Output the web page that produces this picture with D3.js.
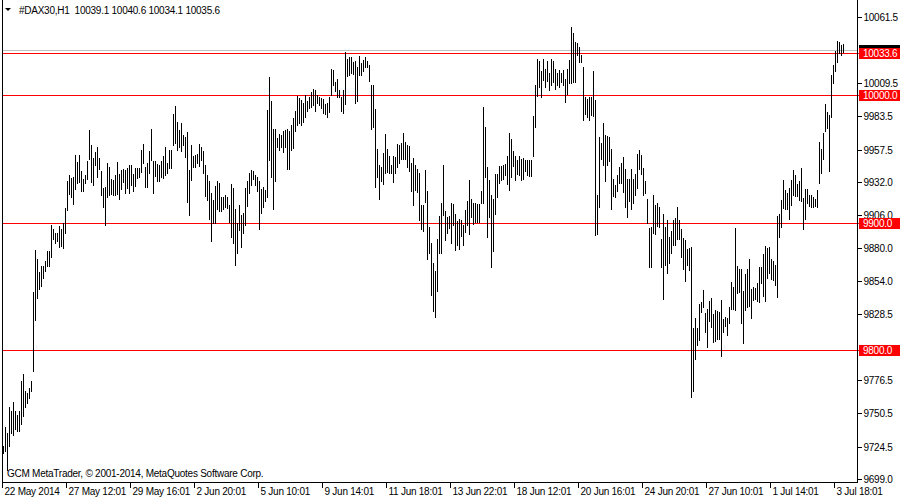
<!DOCTYPE html>
<html><head><meta charset="utf-8">
<script src="https://cdn.jsdelivr.net/npm/d3@7"></script>
<style>
body{margin:0;background:#fff}
svg{display:block}
text{font-family:"Liberation Sans",Arial,sans-serif;font-size:10px;letter-spacing:-0.25px;white-space:pre}
</style>
</head><body>
<svg id="c" width="900" height="500"></svg>
<script>
const title = "#DAX30,H1  10039.1 10040.6 10034.1 10035.6";
const copyright = "GCM MetaTrader, \u00a9 2001-2014, MetaQuotes Software Corp.";

const highs = [
9724.9,9739.8,9735.1,9755.5,9752.4,9759.4,9752.4,9749.2,9752.4,9775.9,
9781.4,9768.0,9766.5,9770.4,9775.9,9845.7,9878.7,9871.6,9861.4,9866.1,
9866.1,9870.1,9877.9,9877.9,9898.3,9895.2,9892.0,9892.0,9897.5,9895.2,
9899.9,9911.6,9932.8,9937.5,9935.2,9936.0,9953.2,9947.7,9953.2,9940.7,
9934.4,9937.5,9948.5,9972.8,9961.1,9950.9,9955.6,9959.5,9950.9,9940.7,
9927.3,9928.1,9946.9,9943.8,9934.4,9933.6,9937.5,9947.7,9938.3,9941.5,
9942.2,9941.5,9943.0,9945.4,9945.4,9938.3,9943.0,9943.0,9943.0,9957.2,
9961.8,9943.8,9946.9,9956.4,9973.6,9948.5,9948.5,9946.2,9945.4,9948.5,
9952.4,9959.5,9946.9,9957.2,9957.2,9985.4,9991.7,9979.1,9972.8,9978.3,
9968.9,9967.3,9971.3,9941.5,9961.1,9952.4,9953.2,9954.0,9961.8,9959.5,
9956.4,9945.4,9937.5,9932.8,9923.4,9917.9,9928.9,9932.8,9931.3,9920.3,
9920.3,9921.8,9920.3,9914.0,9930.5,9927.3,9910.9,9899.9,9914.0,9906.2,
9907.7,9927.3,9932.8,9939.1,9941.5,9940.7,9937.5,9936.0,9932.8,9926.5,
9928.1,9925.8,9988.5,10014.4,9995.6,9973.6,9973.6,9966.6,9969.7,9968.9,
9972.0,9972.8,9973.6,9972.0,9976.8,9982.3,9987.7,9999.5,9997.9,9996.4,
9994.0,10000.3,9995.6,9998.7,10002.6,10005.0,10004.2,10000.3,9998.7,9997.9,
9997.2,9993.2,9994.0,9998.7,10020.7,10019.9,10010.5,10012.8,10004.2,9998.7,
10004.2,10034.0,10028.5,10030.1,10030.1,10026.2,10027.0,10022.3,10030.9,10025.4,
10027.8,10030.1,10027.0,10023.8,10008.1,10008.1,9989.3,9957.9,9945.4,9943.8,
9954.8,9969.7,9957.9,9952.4,9945.4,9952.4,9951.7,9961.8,9961.1,9962.6,
9970.5,9963.4,9961.1,9960.3,9946.9,9950.9,9945.4,9942.3,9939.1,9914.0,
9914.0,9941.5,9925.0,9896.7,9884.2,9868.5,9862.2,9887.3,9905.3,9915.6,
9945.4,9909.3,9904.6,9905.3,9915.6,9914.8,9906.9,9901.4,9903.0,9902.2,
9898.3,9910.1,9917.1,9933.6,9918.7,9915.6,9915.6,9914.8,9914.8,9925.0,
9990.9,9975.2,9943.8,9933.6,9921.8,9918.7,9938.3,9938.3,9944.6,9944.6,
9945.4,9946.2,9952.4,9970.5,9965.8,9956.4,9952.4,9949.3,9952.4,9950.1,
9950.9,9949.3,9949.3,9949.3,9949.3,9983.8,10008.1,10028.5,10027.0,10019.1,
10028.5,10020.7,10027.0,10017.6,10028.5,10027.0,10020.7,10017.6,10019.9,10017.6,
10019.9,10012.8,10020.7,10027.8,10053.7,10049.0,10041.9,10041.1,10038.0,10031.7,
10022.3,9998.7,9997.2,9998.7,9998.7,10019.1,9996.4,9921.8,9967.3,9962.6,
9978.3,9968.9,9968.1,9967.3,9957.9,9934.4,9929.7,9937.5,9943.8,9946.9,
9951.7,9942.3,9934.4,9934.4,9942.3,9934.4,9938.3,9954.0,9957.2,9953.2,
9943.0,9932.8,9918.7,9895.9,9896.7,9921.8,9914.0,9915.6,9912.4,9887.3,
9906.9,9896.7,9902.2,9888.9,9893.6,9902.2,9903.8,9912.4,9902.2,9895.2,
9888.1,9886.5,9879.5,9880.3,9881.0,9817.5,9825.3,9817.5,9836.3,9837.9,
9847.3,9829.3,9832.4,9838.7,9841.0,9828.5,9831.6,9830.8,9830.0,9839.5,
9824.5,9826.1,9825.3,9834.0,9853.6,9849.7,9895.9,9866.1,9863.8,9863.8,
9846.5,9859.9,9863.8,9871.6,9848.1,9849.7,9848.9,9852.8,9865.4,9865.4,
9875.5,9881.8,9880.3,9881.0,9871.6,9870.1,9866.9,9905.3,9906.9,9917.9,
9933.6,9925.8,9923.4,9927.3,9933.6,9941.5,9937.5,9930.5,9932.8,9943.0,
9919.5,9926.5,9926.5,9921.8,9921.8,9920.3,9918.7,9925.8,9963.4,9957.9,
9970.5,9993.2,9987.0,9984.6,10016.0,10023.8,10034.8,10042.7,10041.9,10039.5,
10040.6
];

const lows = [
9719.4,9721.0,9706.1,9724.9,9735.1,9733.5,9738.2,9736.7,9736.7,9742.2,
9748.5,9755.5,9758.6,9762.6,9768.0,9783.8,9823.8,9841.0,9848.1,9850.4,
9856.7,9862.2,9866.1,9866.1,9873.2,9887.3,9884.2,9885.7,9881.0,9881.8,
9880.3,9892.0,9910.1,9922.6,9920.3,9914.8,9926.5,9931.3,9932.0,9925.0,
9925.0,9931.3,9934.4,9950.1,9932.0,9929.7,9945.4,9936.0,9942.3,9921.8,
9912.4,9898.3,9920.3,9921.8,9922.6,9921.8,9921.8,9922.6,9918.7,9926.5,
9932.0,9923.4,9927.3,9923.4,9929.7,9925.0,9928.9,9935.2,9936.0,9939.9,
9946.9,9928.1,9928.1,9939.1,9949.3,9923.4,9936.7,9932.8,9932.8,9936.0,
9935.2,9937.5,9939.1,9943.0,9943.0,9961.1,9962.6,9957.2,9959.5,9956.4,
9961.1,9951.7,9916.3,9906.2,9933.6,9943.8,9943.8,9946.9,9944.6,9949.3,
9939.1,9921.1,9917.9,9903.0,9885.7,9899.9,9899.9,9910.9,9909.3,9909.3,
9910.9,9912.4,9911.6,9900.6,9888.9,9884.2,9866.9,9876.3,9894.4,9881.0,
9892.0,9898.3,9913.2,9923.4,9929.7,9934.4,9929.7,9925.0,9895.2,9907.7,
9912.4,9917.1,9920.3,9949.3,9936.0,9910.9,9932.8,9959.5,9957.2,9959.5,
9955.6,9959.5,9942.3,9942.3,9957.2,9958.7,9972.0,9976.8,9978.3,9976.8,
9979.1,9983.0,9987.7,9990.1,9990.9,9992.5,9987.7,9994.0,9992.5,9990.1,
9986.2,9985.4,9983.0,9987.0,10000.3,10008.1,10003.4,9998.7,9998.7,9987.7,
9986.2,9993.2,10015.2,10016.0,10017.6,10016.8,9994.0,9995.6,10016.0,10016.0,
10019.1,10022.3,10022.3,10011.3,9973.6,9975.2,9928.1,9936.0,9918.7,9932.8,
9930.5,9939.1,9939.9,9939.1,9939.1,9932.0,9939.1,9943.8,9946.9,9950.1,
9950.1,9950.1,9943.8,9940.7,9925.0,9914.0,9925.8,9924.2,9902.2,9895.2,
9893.6,9916.3,9871.6,9876.3,9843.4,9830.8,9826.1,9846.5,9876.3,9876.3,
9906.2,9886.5,9892.0,9895.9,9884.2,9898.3,9878.7,9882.6,9879.5,9889.7,
9882.6,9892.8,9898.3,9891.2,9904.6,9899.1,9900.6,9900.6,9900.6,9915.6,
9915.6,9936.0,9888.9,9904.6,9865.4,9877.9,9906.9,9920.3,9931.3,9933.6,
9934.4,9937.5,9930.5,9925.8,9936.0,9944.6,9933.6,9938.3,9937.5,9933.6,
9934.4,9940.7,9937.5,9936.7,9936.7,9952.4,9975.2,9999.5,10006.6,9998.7,
10012.1,10006.6,10011.3,10004.2,10008.1,10010.5,10005.0,10008.1,10006.6,10010.5,
10008.1,9994.8,10001.1,10009.7,10009.7,10010.5,10010.5,10031.7,10026.2,10026.2,
9980.7,9985.4,9983.0,9980.7,9984.6,9983.8,9890.5,9891.2,9912.4,9950.1,
9945.4,9932.8,9945.4,9948.5,9910.9,9921.1,9920.3,9925.0,9931.3,9931.3,
9924.2,9912.4,9904.6,9917.1,9910.9,9915.6,9921.8,9927.3,9942.3,9938.3,
9921.8,9923.4,9899.9,9865.4,9865.4,9892.0,9891.2,9897.5,9896.7,9865.4,
9840.2,9866.9,9860.6,9868.5,9876.3,9882.6,9882.6,9887.3,9887.3,9873.2,
9863.8,9854.4,9866.9,9863.0,9763.4,9768.0,9793.2,9804.2,9808.1,9830.0,
9834.0,9814.3,9802.6,9823.0,9818.3,9806.5,9807.3,9808.9,9808.9,9795.5,
9814.3,9819.0,9812.0,9821.4,9832.4,9832.4,9831.6,9844.9,9845.7,9821.4,
9805.7,9831.6,9834.0,9834.7,9825.3,9839.5,9840.2,9838.7,9837.9,9852.8,
9842.6,9838.7,9856.7,9860.6,9855.9,9855.2,9851.2,9841.8,9888.9,9896.7,
9911.6,9910.9,9910.9,9903.0,9914.0,9921.8,9921.1,9921.1,9917.9,9917.1,
9895.2,9903.0,9915.6,9913.2,9912.4,9912.4,9913.2,9912.4,9931.3,9939.1,
9950.1,9972.0,9974.4,9940.7,9983.0,10009.7,10019.1,10026.2,10033.3,10031.7,
10034.1
];

const timeLabels = ["22 May 2014","27 May 12:01","29 May 16:01","2 Jun 20:01","5 Jun 10:01",
  "9 Jun 14:01","11 Jun 18:01","13 Jun 22:01","18 Jun 12:01","20 Jun 16:01",
  "24 Jun 20:01","27 Jun 10:01","1 Jul 14:01","3 Jul 18:01"];
const timeLabelBars = [0,32,64,96,128,160,192,224,256,288,320,352,384,416];

const priceTicks = [10061.5,10009.5,9983.5,9957.5,9932.0,9906.0,9880.0,
  9854.0,9828.5,9776.5,9750.5,9724.5,9699.0];
const levels = [10033.6, 10000.0, 9900.0, 9800.0];
const bidPrice = 10035.6;

const W = 900, H = 500;
const plotLeft = 2, plotRight = 857, plotBottom = 482;

const svg = d3.select("#c");
svg.append("rect").attr("width", W).attr("height", H).attr("fill", "#fff");

const x = d3.scaleLinear().domain([0, highs.length - 1]).range([3, 3 + 2 * (highs.length - 1)]);
const y = d3.scaleLinear().domain([9699.0, 10061.5]).range([479, 17]);
const py = v => Math.round(y(v));

// bid line (grey)
svg.append("rect")
  .attr("x", plotLeft).attr("width", plotRight - plotLeft)
  .attr("y", py(bidPrice)).attr("height", 1)
  .attr("fill", "#c0c0c0").attr("shape-rendering", "crispEdges");

// horizontal level lines (red)
svg.append("g").selectAll("rect").data(levels).join("rect")
  .attr("x", plotLeft).attr("width", plotRight + 2 - plotLeft)
  .attr("y", d => py(d)).attr("height", 1)
  .attr("fill", "#ff0000")
  .attr("shape-rendering", "crispEdges");

// bars
const bars = d3.range(highs.length);
svg.append("g").selectAll("rect").data(bars).join("rect")
  .attr("x", i => Math.round(x(i)))
  .attr("width", 1)
  .attr("y", i => py(highs[i]))
  .attr("height", i => Math.max(1, py(lows[i]) - py(highs[i]) + 1))
  .attr("fill", "#000")
  .attr("shape-rendering", "crispEdges");

// frame
const frame = svg.append("g").attr("stroke", "#000").attr("shape-rendering", "crispEdges");
frame.append("line").attr("x1", plotLeft + 0.5).attr("x2", plotLeft + 0.5).attr("y1", 0).attr("y2", plotBottom + 1);
frame.append("line").attr("x1", plotRight + 0.5).attr("x2", plotRight + 0.5).attr("y1", 0).attr("y2", plotBottom + 1);
frame.append("line").attr("x1", plotLeft).attr("x2", plotRight + 1).attr("y1", plotBottom + 0.5).attr("y2", plotBottom + 0.5);

// right price axis
const yAxis = d3.axisRight(y).tickValues(priceTicks).tickSize(4).tickSizeOuter(0)
  .tickFormat(d3.format(".1f")).tickPadding(3);
const gy = svg.append("g").attr("transform", `translate(${plotRight + 0.5},0)`).call(yAxis);
gy.select(".domain").remove();
gy.selectAll(".tick").attr("transform", d => `translate(0,${py(d) + 0.5})`);
gy.selectAll(".tick line").attr("stroke", "#000").attr("shape-rendering", "crispEdges");
gy.selectAll(".tick text").attr("fill", "#000").attr("font-family", null).attr("font-size", null)
  .attr("x", 6).attr("dy", "0.35em");

// bottom time axis
const xAxis = d3.axisBottom(x).tickValues(timeLabelBars).tickSize(5).tickSizeOuter(0)
  .tickFormat((d, i) => timeLabels[i]);
const gx = svg.append("g").attr("transform", `translate(0,${plotBottom + 0.5})`).call(xAxis);
gx.select(".domain").remove();
gx.selectAll(".tick").attr("transform", d => `translate(${Math.round(x(d)) - 0.5},0)`);
gx.selectAll(".tick line").attr("stroke", "#000").attr("shape-rendering", "crispEdges");
gx.selectAll(".tick text").attr("fill", "#000").attr("font-family", null).attr("font-size", null)
  .attr("text-anchor", "start").attr("x", 2).attr("y", 5).attr("dy", "0.71em");

// current price marker (black, mostly hidden under the 10033.6 label)
svg.append("rect").attr("x", plotRight + 2).attr("width", W - plotRight - 2)
  .attr("y", py(bidPrice) - 5).attr("height", 11).attr("fill", "#000");

// level labels on axis
const lvlG = svg.append("g").selectAll("g").data(levels).join("g");
lvlG.append("rect").attr("x", plotRight + 2).attr("width", W - plotRight - 2)
  .attr("y", d => py(d) - 5).attr("height", 11).attr("fill", "#ff0000");
lvlG.append("text").attr("x", plotRight + 6).attr("y", d => py(d) + 0.5).attr("dy", "0.35em")
  .attr("fill", "#fff").text(d => d3.format(".1f")(d));

// title and triangle
svg.append("path").attr("d", "M5,8L11,8L8,11Z").attr("fill", "#000");
svg.append("text").attr("x", 19).attr("y", 14).attr("fill", "#000").text(title);

// copyright
svg.append("text").attr("x", 7).attr("y", 477).attr("fill", "#000").text(copyright);
</script>
</body></html>
